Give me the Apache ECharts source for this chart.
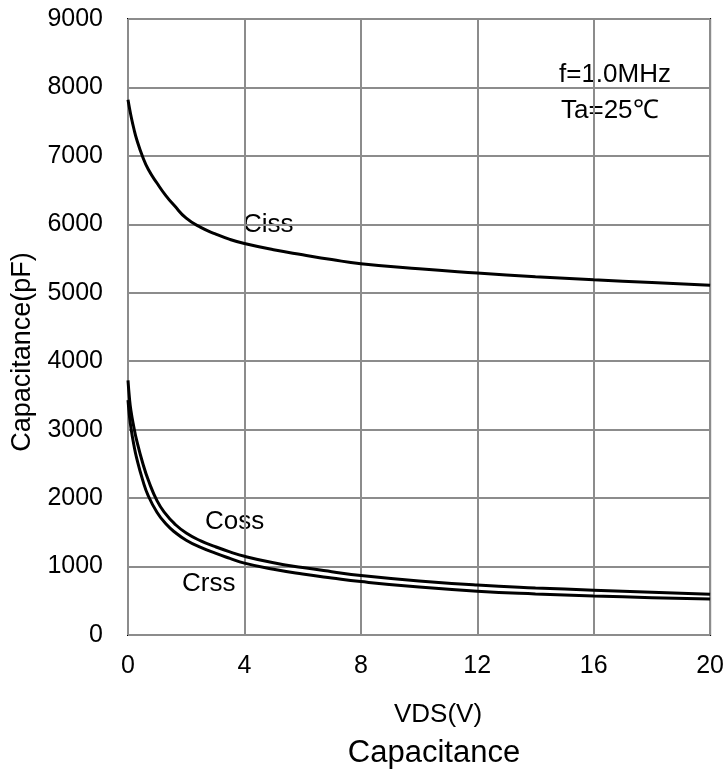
<!DOCTYPE html>
<html>
<head>
<meta charset="utf-8">
<script src="https://cdn.jsdelivr.net/npm/echarts@6/dist/echarts.min.js"></script>
<style>
  html, body { margin: 0; padding: 0; background: #fff; }
  #chart { width: 727px; height: 775px; }
</style>
</head>
<body>
<div id="chart"></div>
<script>
// VDS (V) sample points
const vds = [0, 0.05, 0.1, 0.2, 0.3, 0.5, 0.7, 1, 1.3, 1.6, 2, 2.5, 3, 3.5, 4, 5, 6, 7, 8, 10, 12, 14, 16, 18, 20]
// capacitance in pF
const ciss = [7820, 7700, 7590, 7400, 7240, 6990, 6800, 6600, 6420, 6270, 6090, 5955, 5860, 5780, 5720, 5630, 5555, 5485, 5425, 5350, 5290, 5235, 5190, 5150, 5110]
const coss = [3720, 3460, 3280, 3040, 2840, 2520, 2260, 1960, 1765, 1625, 1490, 1375, 1290, 1215, 1150, 1055, 985, 925, 870, 790, 730, 688, 655, 625, 595]
const crss = [3430, 3200, 3030, 2780, 2580, 2270, 2030, 1790, 1625, 1505, 1385, 1280, 1195, 1120, 1050, 960, 890, 832, 780, 700, 640, 600, 570, 546, 526]
const xTicks = [0, 4, 8, 12, 16, 20]
const yTicks = [0, 1000, 2000, 3000, 4000, 5000, 6000, 7000, 8000, 9000]

const font = 'Liberation Sans, Arial, sans-serif'

function pairs(ys) {
  return vds.map((v, i) => [v, ys[i]])
}

function curve(name, ys) {
  return {
    name: name,
    type: 'line',
    data: pairs(ys),
    smooth: 0.5,
    symbol: 'none',
    lineStyle: { color: '#000', width: 3 },
    z: 3
  }
}

function label(text, x, y, size) {
  return {
    type: 'text', x: x, y: y,
    style: { text: text, fontFamily: font, fontSize: size || 26, fill: '#000', align: 'left', verticalAlign: 'middle' }
  }
}

const myChart = echarts.init(document.getElementById('chart'))
const option = {
  animation: false,
  backgroundColor: '#fff',
  grid: {
    left: 128, top: 19, right: 15, bottom: 140,
    show: true, borderColor: '#000', borderWidth: 2
  },
  xAxis: {
    type: 'value',
    min: xTicks[0], max: xTicks[xTicks.length - 1], interval: 4,
    axisLine: { show: false },
    axisTick: { show: false },
    axisLabel: { color: '#000', fontFamily: font, fontSize: 25, margin: 19 },
    splitLine: { lineStyle: { color: '#8c8c8c', width: 2 } }
  },
  yAxis: {
    type: 'value',
    min: yTicks[0], max: yTicks[yTicks.length - 1], interval: 1000,
    axisLine: { show: false },
    axisTick: { show: false },
    axisLabel: { color: '#000', fontFamily: font, fontSize: 25, margin: 25, formatter: v => String(v) },
    splitLine: { lineStyle: { color: '#8c8c8c', width: 2 } }
  },
  graphic: [
    label('Ciss', 243, 225),
    label('Coss', 205, 522),
    label('Crss', 182, 584),
    label('f=1.0MHz', 559, 75),
    label('Ta=25℃', 561, 111),
    {
      type: 'text', x: 438, y: 715,
      style: { text: 'VDS(V)', fontFamily: font, fontSize: 26, fill: '#000', align: 'center', verticalAlign: 'middle' }
    },
    {
      type: 'text', x: 434, y: 753,
      style: { text: 'Capacitance', fontFamily: font, fontSize: 31, fill: '#000', align: 'center', verticalAlign: 'middle' }
    },
    {
      type: 'text', x: 23, y: 352, rotation: Math.PI / 2,
      style: { text: 'Capacitance(pF)', fontFamily: font, fontSize: 27, fill: '#000', align: 'center', verticalAlign: 'middle' }
    }
  ],
  series: [
    curve('Ciss', ciss),
    curve('Coss', coss),
    curve('Crss', crss)
  ]
}
myChart.setOption(option)
</script>
</body>
</html>
